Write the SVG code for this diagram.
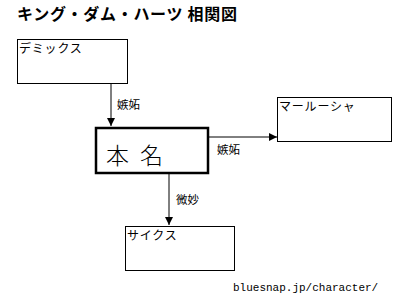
<svg xmlns="http://www.w3.org/2000/svg" width="400" height="300" viewBox="0 0 400 300">
<style>
.box{fill:#fff;stroke:#000;stroke-width:1}
.main{fill:#fff;stroke:#000;stroke-width:2.5}
.t{font-family:"Noto Sans CJK JP","Noto Sans",sans-serif;font-size:12px;letter-spacing:0.8px;fill:#000}
.lbl{font-family:"Noto Sans CJK JP","Noto Sans",sans-serif;font-size:11.5px;fill:#000}
.line{stroke:#000;stroke-width:1;fill:none}
</style>
<defs>
<marker id="ah" viewBox="0 0 10 10" refX="10" refY="5" markerWidth="8" markerHeight="8" markerUnits="userSpaceOnUse" orient="auto">
<path d="M0,0 L10,5 L0,10 z" fill="#000"/>
</marker>
</defs>
<rect width="400" height="300" fill="#fff"/>
<text x="17" y="20" font-family="'Noto Sans CJK JP',sans-serif" font-size="16" letter-spacing="0.7" font-weight="bold">キング・ダム・ハーツ 相関図</text>
<g id="connectors">
<line class="line" x1="111" y1="84" x2="111" y2="126" marker-end="url(#ah)"/>
<text class="lbl" x="117" y="109">嫉妬</text>
<line class="line" x1="208" y1="137" x2="277" y2="137" marker-end="url(#ah)"/>
<text class="lbl" x="217" y="154">嫉妬</text>
<line class="line" x1="169" y1="173" x2="169" y2="225" marker-end="url(#ah)"/>
<text class="lbl" x="176" y="204">微妙</text>
</g>
<g id="demix">
<rect class="box" x="17.5" y="39.5" width="110" height="44"/>
<text class="t" x="19" y="53">デミックス</text>
</g>
<g id="honmyo">
<rect class="main" x="96" y="128" width="112" height="45"/>
<text x="106" y="164" font-family="'Noto Sans CJK JP',sans-serif" font-size="23" font-weight="300" letter-spacing="3">本 名</text>
</g>
<g id="marluxia">
<rect class="box" x="277.5" y="97.5" width="114" height="44"/>
<text class="t" x="279" y="111">マールーシャ</text>
</g>
<g id="saix">
<rect class="box" x="125.5" y="226.5" width="109" height="44"/>
<text class="t" x="127" y="240">サイクス</text>
</g>
<text x="233" y="291" font-family="'Liberation Mono',monospace" font-size="11">bluesnap.jp/character/</text>
</svg>
